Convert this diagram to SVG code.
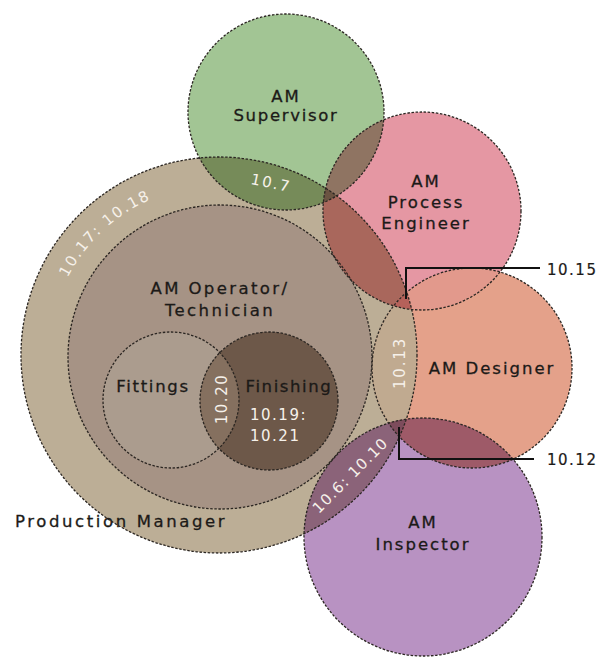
<svg xmlns="http://www.w3.org/2000/svg" width="600" height="657" viewBox="0 0 600 657">
<style>
.ol{fill:none;stroke:#2b2622;stroke-width:1.3;stroke-dasharray:2.5 1.6}
.lb{font-family:"DejaVu Sans",sans-serif;font-size:16.5px;letter-spacing:2px;fill:#1c1a18;stroke:#1c1a18;stroke-width:0.3;text-anchor:middle}
.wl{font-family:"DejaVu Sans",sans-serif;font-size:15px;letter-spacing:1.8px;fill:#f6f1ea;text-anchor:middle}
.ld{fill:none;stroke:#111;stroke-width:2}
</style>
<defs>
<clipPath id="cPM"><circle cx="219" cy="355" r="198"/></clipPath>
<clipPath id="cSup"><circle cx="286" cy="112" r="98"/></clipPath>
<clipPath id="cPE"><circle cx="422" cy="211" r="99"/></clipPath>
<clipPath id="cDes"><circle cx="472" cy="368" r="100"/></clipPath>
<clipPath id="cIns"><circle cx="423" cy="537" r="119"/></clipPath>
<clipPath id="cFit"><circle cx="171" cy="400" r="68"/></clipPath>
<path id="arcPM" d="M51.6,325.5 A170,170 0 0 1 219,185"/>
</defs>
<rect width="600" height="657" fill="#fff"/>
<g id="production-manager">
<circle cx="219" cy="355" r="198" fill="#bcae96"/>
<text class="lb" x="15" y="527" style="text-anchor:start;letter-spacing:2.6px">Production Manager</text>
</g>
<g id="operator">
<circle cx="220" cy="357" r="152" fill="#a69385"/>
</g>
<g id="fittings">
<circle cx="171" cy="400" r="68" fill="#ab9c8e"/>
</g>
<g id="finishing">
<circle cx="269" cy="401" r="69" fill="#6d5849"/>
</g>
<g id="supervisor">
<circle cx="286" cy="112" r="98" fill="#a2c594"/>
</g>
<g id="process-engineer">
<circle cx="422" cy="211" r="99" fill="#e597a3"/>
</g>
<g id="designer">
<circle cx="472" cy="368" r="100" fill="#e4a18a"/>
</g>
<g id="inspector">
<circle cx="423" cy="537" r="119" fill="#b892c2"/>
</g>
<g id="overlaps">
<circle cx="269" cy="401" r="69" fill="#85705f" clip-path="url(#cFit)"/>
<circle cx="286" cy="112" r="98" fill="#768b59" clip-path="url(#cPM)"/>
<circle cx="422" cy="211" r="99" fill="#a9675c" clip-path="url(#cPM)"/>
<circle cx="422" cy="211" r="99" fill="#8f7462" clip-path="url(#cSup)"/>
<g clip-path="url(#cPM)"><circle cx="422" cy="211" r="99" fill="#6b5442" clip-path="url(#cSup)"/></g>
<circle cx="472" cy="368" r="100" fill="#c0aa90" clip-path="url(#cPM)"/>
<circle cx="472" cy="368" r="100" fill="#e2998c" clip-path="url(#cPE)"/>
<g clip-path="url(#cPM)"><circle cx="472" cy="368" r="100" fill="#b5615a" clip-path="url(#cPE)"/></g>
<circle cx="423" cy="537" r="119" fill="#8b6379" clip-path="url(#cPM)"/>
<circle cx="423" cy="537" r="119" fill="#9e5a68" clip-path="url(#cDes)"/>
<g clip-path="url(#cPM)"><circle cx="423" cy="537" r="119" fill="#7d4c5c" clip-path="url(#cDes)"/></g>
</g>
<g id="outlines">
<circle class="ol" cx="219" cy="355" r="198"/>
<circle class="ol" cx="220" cy="357" r="152"/>
<circle class="ol" cx="171" cy="400" r="68"/>
<circle class="ol" cx="269" cy="401" r="69"/>
<circle class="ol" cx="286" cy="112" r="98"/>
<circle class="ol" cx="422" cy="211" r="99"/>
<circle class="ol" cx="472" cy="368" r="100"/>
<circle class="ol" cx="423" cy="537" r="119"/>
</g>
<g id="connectors">
<polyline class="ld" points="406,299 406,268 540,268"/>
<polyline class="ld" points="399,427 399,459 534,459"/>
</g>
<g id="labels">
<text class="lb" x="286" y="102">AM</text>
<text class="lb" x="286" y="121" style="letter-spacing:1.7px">Supervisor</text>
<text class="lb" x="426" y="187">AM</text>
<text class="lb" x="426" y="208">Process</text>
<text class="lb" x="426" y="229">Engineer</text>
<text class="lb" x="220" y="294" style="letter-spacing:2.4px">AM Operator/</text>
<text class="lb" x="220" y="316" style="letter-spacing:2.4px">Technician</text>
<text class="lb" x="153" y="392" style="letter-spacing:1.7px">Fittings</text>
<text class="lb" x="289" y="392" style="letter-spacing:1.6px">Finishing</text>
<text class="lb" x="492" y="374">AM Designer</text>
<text class="lb" x="423" y="528">AM</text>
<text class="lb" x="423" y="550">Inspector</text>
<text class="wl" x="271" y="188" transform="rotate(12 271 183)">10.7</text>
<text class="wl"><textPath href="#arcPM" startOffset="46%">10.17: 10.18</textPath></text>
<text class="wl" transform="translate(227,399) rotate(-90)" style="letter-spacing:1.5px">10.20</text>
<text class="wl" x="250" y="420" style="text-anchor:start;letter-spacing:1.5px">10.19:</text>
<text class="wl" x="250" y="441" style="text-anchor:start;letter-spacing:1.5px">10.21</text>
<text class="wl" transform="translate(405,363) rotate(-90)">10.13</text>
<text class="wl" transform="translate(354,479) rotate(-45)" style="letter-spacing:1.2px">10.6: 10.10</text>
<text class="lb" x="547" y="275" style="text-anchor:start;font-size:15px;letter-spacing:1.5px;stroke-width:0.2">10.15</text>
<text class="lb" x="547" y="465" style="text-anchor:start;font-size:15px;letter-spacing:1.5px;stroke-width:0.2">10.12</text>
</g>
</svg>
